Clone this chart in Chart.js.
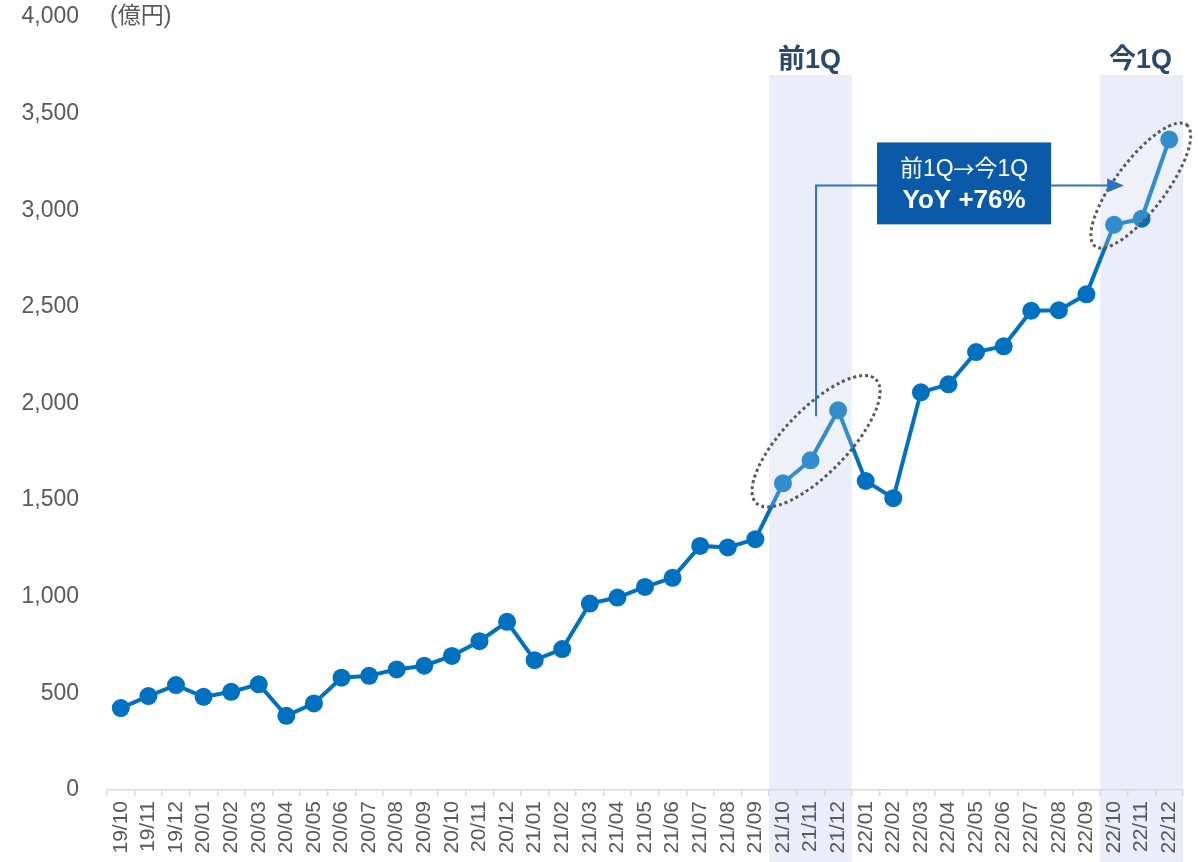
<!DOCTYPE html>
<html lang="ja">
<head>
<meta charset="utf-8">
<title>月次推移</title>
<script src="https://cdn.jsdelivr.net/npm/chart.js@4/dist/chart.umd.min.js"></script>
<style>
  html, body { margin: 0; padding: 0; background: #ffffff; }
  #wrap { width: 1198px; height: 862px; position: relative; }
</style>
</head>
<body>
<div id="wrap"><canvas id="chart"></canvas></div>
<script>
// Month labels (yy/mm)
const months = [
  '19/10', '19/11', '19/12',
  '20/01', '20/02', '20/03', '20/04', '20/05', '20/06', '20/07', '20/08', '20/09', '20/10', '20/11', '20/12',
  '21/01', '21/02', '21/03', '21/04', '21/05', '21/06', '21/07', '21/08', '21/09', '21/10', '21/11', '21/12',
  '22/01', '22/02', '22/03', '22/04', '22/05', '22/06', '22/07', '22/08', '22/09', '22/10', '22/11', '22/12',
];

// Monthly values (億円)
const values = [
  424, 486, 543,
  482, 508, 547, 384, 448, 581, 591, 624, 643, 694, 770, 870,
  672, 729, 965, 996, 1051, 1098, 1263, 1255, 1298, 1587, 1706, 1965,
  1599, 1510, 2058, 2099, 2266, 2296, 2480, 2483, 2565, 2925, 2956, 3366,
];

const yTicks = [0, 500, 1000, 1500, 2000, 2500, 3000, 3500, 4000];

// Highlighted quarters
const prevQ = ['21/10', '21/11', '21/12'];
const currQ = ['22/10', '22/11', '22/12'];
const bandLabels = ['前1Q', '今1Q'];
const unitLabel = '(億円)';
const noteLine1 = ['前1Q', '→', '今1Q'];
const noteLine2 = 'YoY +76%';

const COLORS = {
  line: '#0070c0',
  text: '#595959',
  axis: '#d9d9d9',
  band: '#ebeef8',
  bandText: '#2b4a6b',
  box: '#0b5aaa',
  connector: '#2f72c0',
  dots: '#595959',
};

const FONT = "'Liberation Sans', Arial, 'Noto Sans CJK JP', sans-serif";
const CJK = "'Noto Sans CJK JP', sans-serif";
Chart.defaults.font.family = FONT;

function ellipse(ctx, cx, cy, rx, ry, rot) {
  ctx.save();
  ctx.beginPath();
  ctx.ellipse(cx, cy, rx, ry, rot, 0, Math.PI * 2);
  ctx.fillStyle = 'rgba(255,255,255,0.2)';
  ctx.fill();
  ctx.setLineDash([3, 3]);
  ctx.lineWidth = 3;
  ctx.strokeStyle = COLORS.dots;
  ctx.stroke();
  ctx.restore();
}

// draw text runs (the arrow needs the CJK font to get its long form)
function drawRuns(ctx, runs, cx, cy) {
  let total = 0;
  runs.forEach(r => { ctx.font = r.font; r.w = ctx.measureText(r.text).width; total += r.w; });
  let xPos = cx - total / 2;
  ctx.textAlign = 'left';
  runs.forEach(r => { ctx.font = r.font; ctx.fillText(r.text, xPos, cy); xPos += r.w; });
}

// Shaded quarter bands, drawn under axes and data
const bandsPlugin = {
  id: 'bands',
  beforeDraw(chart) {
    const { ctx, scales: { x, y } } = chart;
    const half = x.width / months.length / 2;
    const top = y.getPixelForValue(3700);
    [prevQ, currQ].forEach((q, k) => {
      const left = x.getPixelForValue(months.indexOf(q[0])) - half;
      const right = x.getPixelForValue(months.indexOf(q[q.length - 1])) + half;
      ctx.save();
      ctx.fillStyle = COLORS.band;
      ctx.fillRect(left, top, right - left, chart.height - top);
      ctx.fillStyle = COLORS.bandText;
      ctx.font = 'bold 27px ' + FONT;
      ctx.textAlign = 'center';
      ctx.textBaseline = 'middle';
      ctx.fillText(bandLabels[k], (left + right) / 2 - 1, top - 14);
      ctx.restore();
    });
  },
};

// Ellipses, connector arrow and the YoY box
const notesPlugin = {
  id: 'notes',
  afterDatasetsDraw(chart) {
    const { ctx, scales: { x, y } } = chart;
    const px = i => x.getPixelForValue(i);
    const py = v => y.getPixelForValue(v);

    ellipse(ctx, px(25.2), py(1805), 86, 32, -46 * Math.PI / 180);
    ellipse(ctx, px(36.97), py(3128), 76, 25, -53 * Math.PI / 180);

    const lineY = py(3128);
    const boxL = px(27.41), boxR = px(33.72);
    const boxT = py(3351), boxB = py(2927);

    ctx.save();
    ctx.strokeStyle = COLORS.connector;
    ctx.fillStyle = COLORS.connector;
    ctx.lineWidth = 2;
    ctx.beginPath();
    ctx.moveTo(px(25.2), py(1934));
    ctx.lineTo(px(25.2), lineY);
    ctx.lineTo(boxL, lineY);
    ctx.moveTo(boxR, lineY);
    ctx.lineTo(px(35.8), lineY);
    ctx.stroke();
    ctx.beginPath();
    ctx.moveTo(px(35.75), lineY - 7);
    ctx.lineTo(px(36.36), lineY);
    ctx.lineTo(px(35.75), lineY + 7);
    ctx.closePath();
    ctx.fill();

    ctx.fillStyle = COLORS.box;
    ctx.fillRect(boxL, boxT, boxR - boxL, boxB - boxT);
    ctx.fillStyle = '#ffffff';
    ctx.textBaseline = 'middle';
    const cx = (boxL + boxR) / 2, cy = (boxT + boxB) / 2;
    drawRuns(ctx, [
      { text: noteLine1[0], font: '23px ' + FONT },
      { text: noteLine1[1], font: '21px ' + CJK },
      { text: noteLine1[2], font: '23px ' + FONT },
    ], cx, cy - 14);
    ctx.textAlign = 'center';
    ctx.font = 'bold 26px ' + FONT;
    ctx.fillText(noteLine2, cx, cy + 17);
    ctx.restore();
  },
  afterDraw(chart) {
    const { ctx } = chart;
    ctx.save();
    ctx.fillStyle = COLORS.text;
    ctx.font = '23px ' + FONT;
    ctx.textAlign = 'left';
    ctx.textBaseline = 'middle';
    ctx.fillText(unitLabel, 110, chart.chartArea.top);
    ctx.restore();
  },
};

new Chart(document.getElementById('chart'), {
  type: 'line',
  data: {
    labels: months,
    datasets: [{
      data: values,
      borderColor: COLORS.line,
      backgroundColor: COLORS.line,
      borderWidth: 4,
      pointRadius: 9,
      pointHoverRadius: 9,
      pointBorderWidth: 0,
      pointBackgroundColor: COLORS.line,
      tension: 0,
    }],
  },
  options: {
    responsive: true,
    maintainAspectRatio: false,
    animation: false,
    events: [],
    layout: { padding: { top: 17, right: 15, left: 0, bottom: 0 } },
    plugins: {
      legend: { display: false },
      tooltip: { enabled: false },
    },
    scales: {
      x: {
        offset: true,
        grid: {
          display: true,
          drawOnChartArea: false,
          drawTicks: true,
          tickLength: 6,
          color: COLORS.axis,
          lineWidth: 1.5,
          offset: true,
        },
        border: { display: true, color: COLORS.axis, width: 1.5 },
        ticks: {
          color: COLORS.text,
          font: { size: 21 },
          minRotation: 90,
          maxRotation: 90,
          autoSkip: false,
          padding: 5,
        },
        afterFit(scale) {
          scale.height = 72;
          scale.paddingLeft = 0;
          scale.paddingRight = 0;
        },
      },
      y: {
        min: 0,
        max: 4000,
        grid: { display: false, drawTicks: false },
        border: { display: false },
        afterBuildTicks(scale) { scale.ticks = yTicks.map(v => ({ value: v })); },
        ticks: {
          color: COLORS.text,
          font: { size: 23 },
          padding: 28,
          callback: v => v.toLocaleString('en-US'),
        },
        afterFit(scale) {
          scale.width = 107;
          scale.paddingTop = 0;
          scale.paddingBottom = 0;
        },
      },
    },
  },
  plugins: [bandsPlugin, notesPlugin],
});
</script>
</body>
</html>
